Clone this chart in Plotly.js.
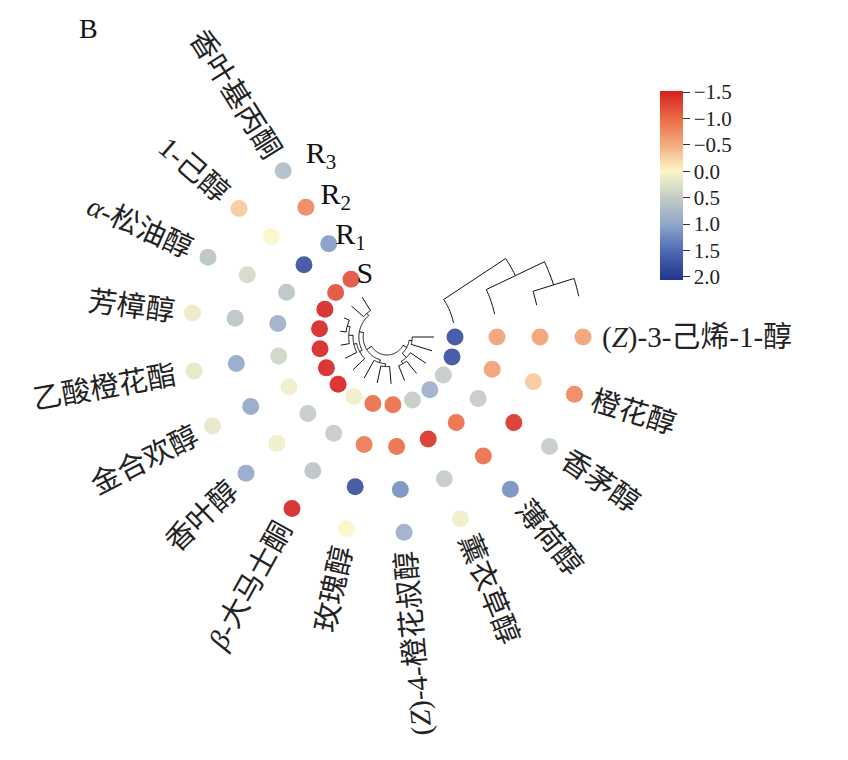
<!DOCTYPE html>
<html><head><meta charset="utf-8">
<script src="https://cdn.plot.ly/plotly-3.0.1.min.js"></script>
<style>html,body{margin:0;padding:0;background:#fff}#chart{width:848px;height:760px}</style>
</head><body><div id="chart"></div>
<script>
// ---------- data ----------
const compounds = [
  '(<i>Z</i>)-3-己烯-1-醇', '橙花醇', '香茅醇', '薄荷醇', '薰衣草醇',
  '(<i>Z</i>)-4-橙花叔醇', '玫瑰醇', '<i>β</i>-大马士酮', '香叶醇', '金合欢醇',
  '乙酸橙花酯', '芳樟醇', '<i>α</i>-松油醇', '1-己醇', '香叶基丙酮'
];
const samples = ['S', 'R<sub>1</sub>', 'R<sub>2</sub>', 'R<sub>3</sub>'];
const S  = [ 1.8,  1.8,  0.5,  0.9,  0.5, -1.0, -1.0,  0.1, -1.5, -1.5, -1.5, -1.5, -1.5, -1.2, -1.2];
const R1 = [-0.6, -0.6,  0.5, -1.0, -1.4, -1.0, -0.9,  0.5,  0.5,  0.1,  0.4,  0.9,  0.6,  1.8,  1.1];
const R2 = [-0.6, -0.3, -1.4, -1.0,  0.5,  1.2,  1.8,  0.6,  0.1,  1.0,  1.0,  0.6,  0.35, 0.0, -0.8];
const R3 = [-0.6, -0.8,  0.5,  1.2,  0.1,  0.9,  0.0, -1.5,  1.0,  0.2,  0.2,  0.15, 0.6, -0.3,  0.7];
// row (compound) clustering: node ids 15.. are created in order
const rowLinkA = [0, 3, 2, 15, 5, 19, 11, 10, 9, 8, 13, 24, 20, 18];
const rowLinkB = [1, 4, 16, 17, 6, 7, 12, 21, 22, 23, 14, 25, 26, 27];
const rowLinkH = [0.75, 0.55, 0.65, 0.85, 0.6, 0.7, 0.2, 0.3, 0.45, 0.55, 0.55, 0.65, 0.8, 1.0];
// column (sample) clustering: node ids 4..
const colLinkA = [2, 1, 0];
const colLinkB = [3, 4, 5];
const colLinkH = [0.25, 0.63, 1.0];
const cbTicks = [-1.5, -1.0, -0.5, 0.0, 0.5, 1.0, 1.5, 2.0];

// ---------- layout constants ----------
const W = 848, H = 760;
const CX = 387, CY = 337, RPX = 250;   // polar centre & radius in px
const STEP = 17;                       // degrees between compounds
const ringR = [68, 110, 153, 196];
const innerTip = 47, innerRoot = 18;
const colBase = 12, colSpan = 21.5;
const labelR = 214, LABEL_SIZE = 29;
const FONT = '"Liberation Serif", "Noto Sans CJK SC", serif';
const CMIN = -1.52, CMAX = 2.06;
const stops = [[-1.5,'#d41f1e'],[-1.0,'#ea6a46'],[-0.5,'#f4ac7d'],[0.0,'#fbf6c8'],
               [0.5,'#c3cbc6'],[1.0,'#91a6c9'],[1.5,'#4d6cb4'],[2.0,'#22338c']];
const cs = stops.map(s => [(s[0]-CMIN)/(CMAX-CMIN), s[1]]);
cs[0][0] = 0; cs[cs.length-1][0] = 1;
const csRev = stops.slice().reverse().map(s => [(-s[0]+CMAX)/(CMAX-CMIN), s[1]]);
csRev[0][0] = 0; csRev[csRev.length-1][0] = 1;

const series = [S, R1, R2, R3];
const traces = [];

// dots
const dr = [], dt = [], dc = [], dtext = [];
series.forEach((arr, j) => arr.forEach((v, i) => {
  dr.push(ringR[j]); dt.push(i * STEP); dc.push(v);
  dtext.push(compounds[i] + ' / ' + samples[j] + ': ' + v);
}));
traces.push({
  type: 'scatterpolar', mode: 'markers', r: dr, theta: dt, text: dtext, hoverinfo: 'text',
  marker: { size: 17, color: dc, colorscale: cs, cmin: CMIN, cmax: CMAX, showscale: false,
            opacity: 0.9, line: { width: 0 } },
  showlegend: false
});

// helper for arcs
function arc(r, t0, t1, R, T) {
  const n = Math.max(2, Math.ceil(Math.abs(t1 - t0) / 1.5) + 1);
  for (let k = 0; k < n; k++) { R.push(r); T.push(t0 + (t1 - t0) * k / (n - 1)); }
}

// inner (row) dendrogram
{
  const ang = compounds.map((_, i) => i * STEP);
  const rad = compounds.map(() => innerTip);
  const R = [], T = [];
  rowLinkA.forEach((a, k) => {
    const b = rowLinkB[k];
    const rk = innerTip - rowLinkH[k] * (innerTip - innerRoot);
    const ak = (ang[a] + ang[b]) / 2;
    R.push(rad[a]); T.push(ang[a]);
    arc(rk, ang[a], ang[b], R, T);
    R.push(rad[b]); T.push(ang[b]);
    R.push(null); T.push(null);
    ang.push(ak); rad.push(rk);
  });
  traces.push({ type: 'scatterpolar', mode: 'lines', r: R, theta: T, hoverinfo: 'skip',
    line: { color: '#111', width: 1 }, showlegend: false });
}

// outer (sample) dendrogram
{
  const ang = samples.map(() => -colBase);
  const rad = ringR.slice();
  const R = [], T = [];
  colLinkA.forEach((a, k) => {
    const b = colLinkB[k];
    const ak = -(colBase + colLinkH[k] * colSpan);
    const rk = (rad[a] + rad[b]) / 2;
    arc(rad[a], ang[a], ak, R, T);
    arc(rad[b], ak, ang[b], R, T);
    R.push(null); T.push(null);
    ang.push(ak); rad.push(rk);
  });
  traces.push({ type: 'scatterpolar', mode: 'lines', r: R, theta: T, hoverinfo: 'skip',
    line: { color: '#111', width: 1 }, showlegend: false });
}

// sample labels
traces.push({
  type: 'scatterpolar', mode: 'text', r: ringR.map(r => r - 3), theta: ringR.map(() => 250),
  text: samples, textposition: 'middle center', hoverinfo: 'skip',
  textfont: { family: FONT, size: 30, color: '#111' }, showlegend: false
});

// colour bar (reversed display: -1.5 at the top)
traces.push({
  type: 'scatterpolar', mode: 'markers', r: [0], theta: [0], hoverinfo: 'skip',
  marker: { size: 1, opacity: 0, color: [0], colorscale: csRev, cmin: -CMAX, cmax: -CMIN,
    showscale: true,
    colorbar: {
      x: 660 / W, xanchor: 'left', xpad: 0, ypad: 0, y: 1 - 185.5 / H, yanchor: 'middle',
      len: 189 / H, lenmode: 'fraction', thickness: 23, outlinewidth: 0,
      tickvals: cbTicks.map(v => -v),
      ticktext: cbTicks.map(v => (v < 0 ? '\u2212' : '') + Math.abs(v).toFixed(1)),
      ticks: 'outside', ticklen: 7, tickcolor: '#333', tickwidth: 1,
      tickfont: { family: FONT, size: 21, color: '#222' }
    } },
  showlegend: false
});

// compound labels (rotated annotations)
const ctx = document.createElement('canvas').getContext('2d');
ctx.font = LABEL_SIZE + 'px ' + FONT;
const annotations = compounds.map((c, i) => {
  const plain = c.replace(/<[^>]+>/g, '');
  const w = ctx.measureText(plain).width;
  const th = i * STEP;
  const rc = labelR + w / 2;
  const rad = th * Math.PI / 180;
  const xp = CX + rc * Math.cos(rad), yp = CY + rc * Math.sin(rad);
  return {
    xref: 'paper', yref: 'paper', x: xp / W, y: 1 - yp / H, xanchor: 'center', yanchor: 'middle',
    text: c, showarrow: false, textangle: th < 80 ? th : th - 180,
    font: { family: FONT, size: LABEL_SIZE, color: '#222' }
  };
});
annotations.push({
  xref: 'paper', yref: 'paper', x: 88 / W, y: 1 - 28 / H, xanchor: 'center', yanchor: 'middle',
  text: 'B', showarrow: false, font: { family: FONT, size: 28, color: '#111' }
});

const layout = {
  width: W, height: H, margin: { l: 0, r: 0, t: 0, b: 0 },
  paper_bgcolor: '#fff', plot_bgcolor: '#fff', showlegend: false,
  polar: {
    domain: { x: [(CX - RPX) / W, (CX + RPX) / W], y: [1 - (CY + RPX) / H, 1 - (CY - RPX) / H] },
    bgcolor: 'rgba(0,0,0,0)',
    radialaxis: { visible: false, range: [0, RPX], showgrid: false, showline: false },
    angularaxis: { visible: false, direction: 'clockwise', rotation: 0, showgrid: false,
                   showline: false, ticks: '' }
  },
  annotations: annotations
};
Plotly.newPlot('chart', traces, layout, { displayModeBar: false, staticPlot: true });
</script></body></html>
